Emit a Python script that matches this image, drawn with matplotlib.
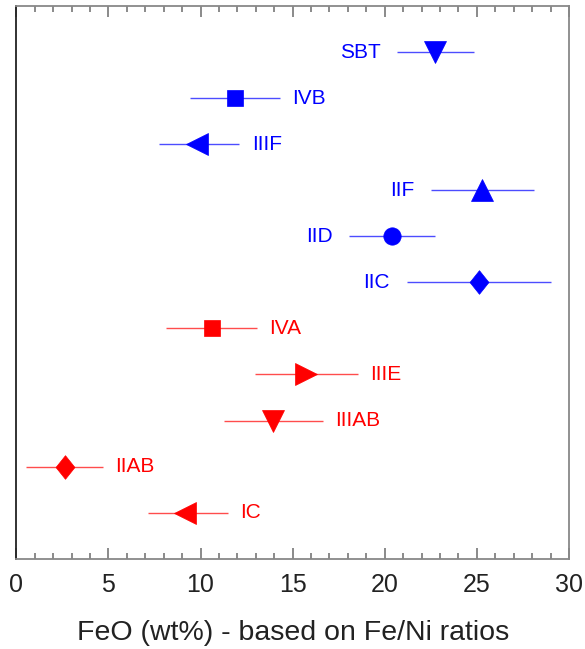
import matplotlib
matplotlib.use("Agg")
import matplotlib.pyplot as plt
from matplotlib.ticker import MultipleLocator

plt.rcParams['font.family'] = ['Liberation Sans', 'DejaVu Sans']

# Iron meteorite groups, top to bottom
groups = ["SBT", "IVB", "IIIF", "IIF", "IID", "IIC", "IVA", "IIIE", "IIIAB", "IIAB", "IC"]
feo = [22.75, 11.88, 9.82, 25.3, 20.38, 25.1, 10.6, 15.7, 13.96, 2.62, 9.13]
feo_low = [20.67, 9.44, 7.76, 22.5, 18.08, 21.18, 8.14, 12.93, 11.25, 0.54, 7.14]
feo_high = [24.83, 14.32, 12.1, 28.1, 22.7, 29.03, 13.06, 18.54, 16.64, 4.7, 11.49]
colors = ["blue"] * 6 + ["red"] * 5

# diamond slightly narrower than it is tall
diamond = [(0, 1), (0.8, 0), (0, -1), (-0.8, 0), (0, 1)]
markers = ["v", "s", "<", "^", "o", diamond, "s", ">", "v", diamond, "<"]
marker_sizes = [15.5, 11, 15.5, 15.5, 12.5, 17, 11, 15.5, 15.5, 17, 15.5]
label_side = ["left", "right", "right", "left", "left", "left",
              "right", "right", "right", "right", "right"]

fig = plt.figure(figsize=(5.85, 6.49), dpi=100)
ax = fig.add_axes([16.3 / 585, 1 - 558.7 / 649, (569 - 16.3) / 585, (558.7 - 6) / 649])

n = len(groups)
for i, g in enumerate(groups):
    y = n - i
    ax.plot([feo_low[i], feo_high[i]], [y, y], color=colors[i], lw=1.0, alpha=0.7,
            solid_capstyle="butt", zorder=2)
    ax.plot(feo[i], y, marker=markers[i], ms=marker_sizes[i], color=colors[i],
            mec=colors[i], mew=0.5, ls="none", zorder=3)
    if label_side[i] == "right":
        ax.annotate(g, (feo_high[i], y), xytext=(9, 0), textcoords="offset points",
                    ha="left", va="center", color=colors[i], fontsize=15)
    else:
        ax.annotate(g, (feo_low[i], y), xytext=(-12, 0), textcoords="offset points",
                    ha="right", va="center", color=colors[i], fontsize=15)

ax.set_xlim(0, 30)
ax.set_ylim(0, n + 1)
ax.xaxis.set_major_locator(MultipleLocator(5))
ax.xaxis.set_minor_locator(MultipleLocator(1))
ax.tick_params(axis="x", which="both", direction="in", top=True, bottom=True,
               colors="#777777", labelcolor="#222222", labelsize=18, pad=10)
ax.tick_params(axis="x", which="major", length=8, width=1.2)
ax.tick_params(axis="x", which="minor", length=4.3, width=1.2)
ax.set_yticks([])
for side in ["top", "right", "bottom"]:
    ax.spines[side].set_color("#888888")
    ax.spines[side].set_linewidth(1.3)
ax.spines["left"].set_color("#222222")
ax.spines["left"].set_linewidth(1.3)

ax.set_xlabel("FeO (wt%) - based on Fe/Ni ratios", fontsize=20.5, labelpad=17,
              color="#222222")

fig.savefig("out.png", dpi=100)
